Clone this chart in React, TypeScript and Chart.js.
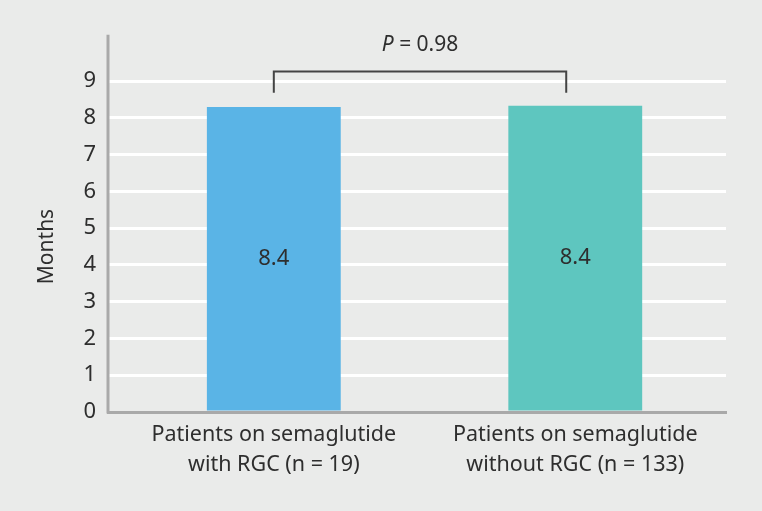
import { useEffect, useRef } from "react"
import { Chart, registerables } from "chart.js"

Chart.register(...registerables)

const groupLabels = [
  ["Patients on semaglutide", "with RGC (n = 19)"],
  ["Patients on semaglutide", "without RGC (n = 133)"],
]
const groupPositions = [1, 2]
const months = [8.29, 8.33]
const valueLabels = ["8.4", "8.4"]
const barColors = ["#5ab4e6", "#5ec6bf"]
const yTicks = [0, 1, 2, 3, 4, 5, 6, 7, 8, 9]

// comparison bracket (data units)
const bracketFrom = 1
const bracketTo = 1.97
const bracketTop = 9.26
const bracketBottom = 8.68
const pLabelValue = "0.98"
const pLabelY = 9.97
const axisTopValue = 10.26

const FONT = "'Noto Sans', sans-serif"
const TEXT = "#2e2e2e"
const AXIS = "#a9a9a9"

const extras = {
  id: "extras",
  afterDraw(chart: Chart) {
    const { ctx, scales, chartArea } = chart
    const x = scales.x
    const y = scales.y
    ctx.save()

    // y axis line, reaching above the top tick
    ctx.strokeStyle = AXIS
    ctx.lineWidth = 3
    ctx.beginPath()
    ctx.moveTo(chartArea.left, y.getPixelForValue(axisTopValue))
    ctx.lineTo(chartArea.left, chartArea.bottom + 1.5)
    ctx.stroke()

    // value labels inside the bars
    ctx.fillStyle = TEXT
    ctx.font = `22px ${FONT}`
    ctx.textAlign = "center"
    ctx.textBaseline = "middle"
    chart.getDatasetMeta(0).data.forEach((bar: any, i) => {
      ctx.fillText(valueLabels[i], bar.x, (bar.y + bar.base) / 2)
    })

    // bracket
    const x1 = x.getPixelForValue(bracketFrom)
    const x2 = x.getPixelForValue(bracketTo)
    const yt = y.getPixelForValue(bracketTop)
    const yb = y.getPixelForValue(bracketBottom)
    ctx.strokeStyle = "#444444"
    ctx.lineWidth = 2
    ctx.beginPath()
    ctx.moveTo(x1, yb)
    ctx.lineTo(x1, yt)
    ctx.lineTo(x2, yt)
    ctx.lineTo(x2, yb)
    ctx.stroke()

    // P value text
    const cx = (x1 + x2) / 2
    const py = y.getPixelForValue(pLabelY)
    ctx.font = `italic 21px ${FONT}`
    const pW = ctx.measureText("P").width
    ctx.font = `21px ${FONT}`
    const rest = ` = ${pLabelValue}`
    const rW = ctx.measureText(rest).width
    const start = cx - (pW + rW) / 2
    ctx.textAlign = "left"
    ctx.font = `italic 21px ${FONT}`
    ctx.fillText("P", start, py)
    ctx.font = `21px ${FONT}`
    ctx.fillText(rest, start + pW, py)

    ctx.restore()
  },
}

export default function App() {
  const chartRef = useRef<HTMLCanvasElement>(null)
  const chartInstance = useRef<Chart | null>(null)

  useEffect(() => {
    document.body.style.margin = "0"
    if (!chartRef.current) return
    if (chartInstance.current) chartInstance.current.destroy()

    const ctx = chartRef.current.getContext("2d")
    if (!ctx) return

    chartInstance.current = new Chart(ctx, {
      type: "bar",
      data: {
        datasets: [
          {
            data: groupPositions.map((p, i) => ({ x: p, y: months[i] })),
            backgroundColor: barColors,
            borderWidth: 0,
            barPercentage: 0.444,
            categoryPercentage: 1,
          },
        ],
      },
      options: {
        animation: false,
        responsive: true,
        maintainAspectRatio: false,
        layout: { padding: { top: 81, right: 36, left: 0, bottom: 0 } },
        plugins: {
          legend: { display: false },
          tooltip: { enabled: false },
        },
        scales: {
          x: {
            type: "linear",
            min: 0.45,
            max: 2.5,
            offset: false,
            afterBuildTicks: (scale) => {
              scale.ticks = groupPositions.map((v) => ({ value: v }))
            },
            afterFit: (scale) => {
              scale.height = 99
            },
            grid: { display: false, drawTicks: false, offset: false },
            border: { color: AXIS, width: 3 },
            ticks: {
              padding: 8,
              maxRotation: 0,
              autoSkip: false,
              color: TEXT,
              font: { family: FONT, size: 21.5, lineHeight: 1.4 },
              callback: (v) => groupLabels[groupPositions.indexOf(Number(v))] ?? "",
            },
          },
          y: {
            min: 0,
            max: 9,
            afterBuildTicks: (scale) => {
              scale.ticks = yTicks.map((v) => ({ value: v }))
            },
            afterFit: (scale) => {
              scale.width = 108
            },
            grid: { color: "#ffffff", lineWidth: 3, drawTicks: false },
            border: { display: false },
            ticks: {
              padding: 12,
              color: TEXT,
              font: { family: FONT, size: 22 },
            },
            title: {
              display: true,
              text: "Months",
              color: TEXT,
              padding: { top: 34, bottom: 0 },
              font: { family: FONT, size: 21 },
            },
          },
        },
      },
      plugins: [extras],
    })

    return () => {
      if (chartInstance.current) {
        chartInstance.current.destroy()
        chartInstance.current = null
      }
    }
  }, [])

  return (
    <div style={{ position: "relative", width: 762, height: 511, background: "#eaebea" }}>
      <canvas ref={chartRef} />
    </div>
  )
}
